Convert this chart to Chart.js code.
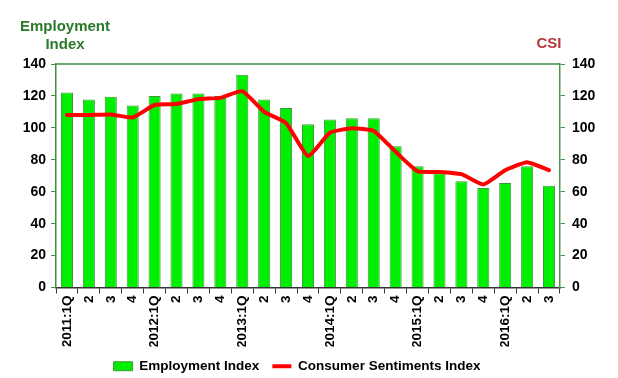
<!DOCTYPE html>
<html>
<head>
<meta charset="utf-8">
<script src="https://cdn.jsdelivr.net/npm/chart.js@4"></script>
<style>
html,body{margin:0;padding:0;background:#fff;overflow:hidden;}
#wrap{width:618px;height:378px;position:relative;overflow:hidden;}
</style>
</head>
<body>
<div id="wrap"><canvas id="c" width="618" height="383"></canvas></div>
<script>
const categories = ["2011:1Q","2","3","4","2012:1Q","2","3","4","2013:1Q","2","3","4","2014:1Q","2","3","4","2015:1Q","2","3","4","2016:1Q","2","3"];
const employmentIndex = [122.2,117.8,119.5,114,120,121.5,121.5,120,133.3,117.8,112.5,102.3,105.2,106,106,88.5,76,71.5,66.5,62.3,65.5,76,63.8];
const consumerSentiments = [108,108,108.4,106.5,114.3,114.9,118,118.8,123,110,103,82.4,96.9,99.8,98.1,85,72.8,72.4,71,64.5,73.5,78.5,73.5];
const yTicks = [0,20,40,60,80,100,120,140];
const leftTitle = ["Employment","Index"];
const rightTitle = "CSI";

const FONT = "'Liberation Sans', Arial, sans-serif";

const titlesPlugin = {
  id: 'titles',
  beforeDraw(chart) {
    if (chart.legend) { chart.legend.right = chart.width - 24; }
  },
  afterDraw(chart) {
    const ctx = chart.ctx;
    const a = chart.chartArea;
    ctx.save();
    ctx.font = "bold 15px " + FONT;
    ctx.fillStyle = "#2b7a2b";
    ctx.textAlign = "center";
    ctx.textBaseline = "middle";
    ctx.fillText(leftTitle[0], 65, 27);
    ctx.fillText(leftTitle[1], 65, 45);
    ctx.fillStyle = "#b5383b";
    ctx.fillText(rightTitle, 549, 44);
    ctx.strokeStyle = "#3f8f3f";
    ctx.lineWidth = 1.5;
    ctx.beginPath();
    ctx.moveTo(a.left, a.top);
    ctx.lineTo(a.right, a.top);
    ctx.stroke();
    ctx.restore();
  }
};

new Chart(document.getElementById('c'), {
  type: 'bar',
  data: {
    labels: categories,
    datasets: [
      {
        type: 'line',
        label: 'Consumer Sentiments Index',
        data: consumerSentiments,
        yAxisID: 'y1',
        borderColor: '#ff0000',
        backgroundColor: '#ff0000',
        borderWidth: 4,
        pointRadius: 0,
        tension: 0.15,
        borderJoinStyle: 'round',
        borderCapStyle: 'round',
        pointStyle: 'line',
        order: 0
      },
      {
        type: 'bar',
        label: 'Employment Index',
        data: employmentIndex,
        yAxisID: 'y',
        backgroundColor: '#00ee00',
        borderColor: '#3a9a3a',
        borderWidth: 1,
        barPercentage: 0.55,
        categoryPercentage: 1.0,
        pointStyle: 'rect',
        order: 1
      }
    ]
  },
  options: {
    responsive: false,
    animation: false,
    devicePixelRatio: 1,
    layout: { padding: { left: 0, right: 0, top: 64, bottom: 0 } },
    plugins: {
      legend: {
        position: 'bottom',
        reverse: true,
        labels: {
          usePointStyle: true,
          pointStyleWidth: 19,
          boxHeight: 9,
          padding: 13,
          color: '#000',
          font: { family: FONT, size: 13.5, weight: 'bold' }
        }
      },
      tooltip: { enabled: false }
    },
    scales: {
      x: {
        offset: true,
        grid: { display: true, drawOnChartArea: false, drawTicks: true, tickLength: 6, color: '#333', offset: true },
        border: { display: true, color: '#333', width: 1.5 },
        ticks: {
          maxRotation: 90, minRotation: 90, autoSkip: false,
          color: '#000', padding: 2,
          font: { family: FONT, size: 13.5, weight: 'bold' }
        },
        afterFit(s) { s.height = 59; }
      },
      y: {
        position: 'left',
        min: 0, max: 140,
        afterBuildTicks(s) { s.ticks = yTicks.map(v => ({ value: v })); },
        grid: { display: true, drawOnChartArea: false, drawTicks: true, tickLength: 5, color: '#3f8f3f' },
        border: { display: true, color: '#3f8f3f', width: 1.5 },
        ticks: { color: '#000', padding: 5, font: { family: FONT, size: 14, weight: 'bold' } },
        afterFit(s) { s.width = 56; }
      },
      y1: {
        position: 'right',
        min: 0, max: 140,
        afterBuildTicks(s) { s.ticks = yTicks.map(v => ({ value: v })); },
        grid: { display: true, drawOnChartArea: false, drawTicks: true, tickLength: 5, color: '#4f934f' },
        border: { display: true, color: '#4f934f', width: 1.5 },
        ticks: { color: '#000', padding: 7, font: { family: FONT, size: 14, weight: 'bold' } },
        afterFit(s) { s.width = 58; }
      }
    }
  },
  plugins: [titlesPlugin]
});
</script>
</body>
</html>
